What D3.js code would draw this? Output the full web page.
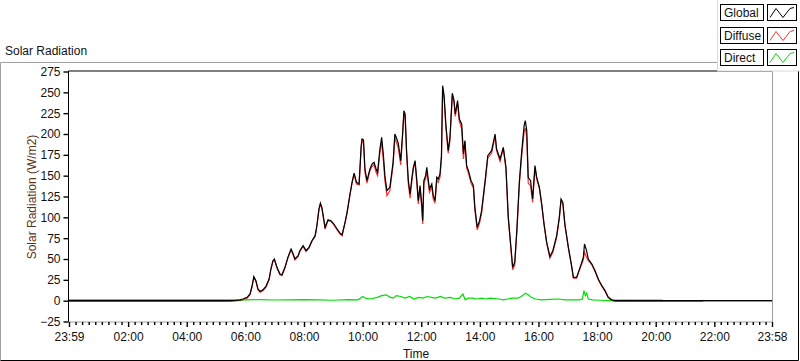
<!DOCTYPE html>
<html>
<head>
<meta charset="utf-8">
<script src="https://d3js.org/d3.v7.min.js"></script>
<style>
  body { margin: 0; background: #fff; }
  svg text { font-family: "Liberation Sans", Arial, sans-serif; }
</style>
</head>
<body>
<script>
// hours of the day (23:59 of the previous day = -1/60)
const hours = [-0.02, 5.48, 5.65, 5.82, 5.92, 6.06, 6.16, 6.23, 6.29, 6.36, 6.43, 6.50, 6.60, 6.70, 6.81, 6.87, 6.94, 6.99,
  7.08, 7.18, 7.25, 7.35, 7.45, 7.56, 7.63, 7.69, 7.80, 7.86, 7.97, 8.07, 8.17, 8.27, 8.38, 8.44, 8.51, 8.56, 8.61, 8.72,
  8.82, 8.92, 9.02, 9.13, 9.23, 9.30, 9.40, 9.47, 9.57, 9.64, 9.71, 9.79, 9.88, 9.95, 9.98, 10.03, 10.08, 10.15, 10.25,
  10.32, 10.39, 10.46, 10.51, 10.59, 10.65, 10.71, 10.76, 10.83, 10.93, 11.04, 11.10, 11.16, 11.22, 11.30, 11.37, 11.41,
  11.45, 11.50, 11.56, 11.62, 11.67, 11.73, 11.79, 11.85, 11.90, 11.96, 12.02, 12.05, 12.09, 12.15, 12.19, 12.23, 12.28,
  12.36, 12.41, 12.47, 12.53, 12.58, 12.64, 12.69, 12.73, 12.78, 12.84, 12.92, 12.98, 13.06, 13.12, 13.16, 13.24, 13.30,
  13.38, 13.44, 13.49, 13.55, 13.61, 13.70, 13.78, 13.83, 13.91, 13.99, 14.06, 14.18, 14.27, 14.40, 14.52, 14.57, 14.69,
  14.80, 14.89, 14.97, 15.05, 15.12, 15.19, 15.26, 15.35, 15.43, 15.51, 15.55, 15.60, 15.65, 15.73, 15.80, 15.88, 15.94,
  16.03, 16.11, 16.19, 16.28, 16.39, 16.49, 16.62, 16.71, 16.77, 16.83, 16.90, 17.02, 17.13, 17.19, 17.30, 17.42, 17.53,
  17.57, 17.64, 17.70, 17.82, 17.93, 18.04, 18.16, 18.27, 18.38, 18.50, 18.61, 21.60, 21.62, 23.97];

const globalRad = [0, 0, 0, 1, 2, 4, 8, 18, 29, 24, 14, 11, 13, 17, 26, 38, 48, 50,
  40, 32, 31, 40, 52, 62, 56, 50, 54, 60, 66, 60, 64, 72, 78, 90, 110, 117, 112, 88,
  97, 96, 92, 86, 81, 79, 94, 106, 128, 142, 153, 142, 140, 185, 194, 193, 158, 144, 158,
  164, 166, 158, 154, 182, 196, 174, 150, 132, 136, 166, 200, 195, 188, 168, 204, 228,
  224, 180, 144, 128, 144, 160, 168, 144, 120, 138, 114, 96, 144, 150, 160, 148, 134,
  140, 126, 120, 148, 146, 152, 174, 258, 246, 212, 180, 196, 249, 240, 224, 240, 218,
  212, 176, 192, 162, 156, 144, 138, 112, 88, 96, 108, 144, 174, 180, 200, 182, 170,
  184, 160, 100, 68, 40, 46, 84, 144, 180, 210, 216, 204, 148, 144, 122, 162, 148,
  136, 116, 92, 70, 53, 60, 78, 100, 122, 118, 92, 64, 42, 28, 28, 40, 52,
  68, 60, 50, 44, 36, 26, 18, 12, 4, 1, 0, 0, 0, 0];

const diffuseRad = [-1, -1, 0, 0, 1, 3, 7, 17, 28, 23, 13, 10, 12, 16, 25, 37, 47, 49,
  39, 31, 30, 39, 51, 61, 55, 49, 53, 59, 65, 59, 63, 71, 77, 89, 109, 116, 111, 86,
  96, 95, 91, 85, 80, 78, 93, 105, 127, 141, 152, 140, 139, 183, 192, 189, 154, 141, 156,
  161, 163, 154, 150, 178, 190, 168, 144, 126, 132, 163, 196, 189, 183, 163, 201, 225,
  221, 176, 140, 123, 140, 158, 165, 141, 116, 135, 111, 92, 141, 146, 155, 144, 130,
  137, 122, 117, 145, 142, 148, 170, 254, 243, 208, 177, 192, 246, 237, 221, 237, 215,
  206, 170, 190, 159, 153, 141, 135, 109, 85, 93, 105, 142, 171, 177, 197, 180, 167,
  183, 158, 98, 66, 37, 43, 81, 141, 175, 202, 207, 197, 141, 138, 118, 159, 146,
  135, 115, 91, 69, 51, 58, 76, 98, 120, 117, 91, 63, 41, 27, 27, 39, 49,
  58, 52, 48, 43, 35, 25, 17.5, 11.5, 4, 0, -1, -1, 0, 0];

// direct radiation has its own sample times
const directHours = [-0.02, 5.65, 6.0, 6.5, 7.0, 7.5, 8.0, 8.5, 9.0, 9.5, 9.85, 10.0, 10.1, 10.25, 10.5, 10.65, 10.8,
  10.95, 11.05, 11.15, 11.3, 11.45, 11.6, 11.75, 11.9, 12.05, 12.2, 12.35, 12.5, 12.65, 12.8, 13.0, 13.15, 13.3, 13.42,
  13.5, 13.6, 13.75, 13.9, 14.05, 14.2, 14.35, 14.5, 14.65, 14.8, 14.95, 15.1, 15.3, 15.45, 15.55, 15.65, 15.75, 15.9,
  16.1, 16.4, 16.7, 16.9, 17.2, 17.4, 17.5, 17.55, 17.6, 17.64, 17.7, 17.85, 18.1, 18.4, 18.6, 20.2, 20.25, 23.97];
const directRad = [1, 1, 1, 1.2, 0.8, 1, 1.2, 1, 0.5, 1.2, 1, 5, 3, 2, 4, 6, 7,
  4, 3, 6, 5, 3, 5, 2, 4, 3, 5, 4, 3, 5, 3, 4, 2, 3, 8,
  1, 3, 3, 2, 3, 2, 3, 2.5, 2, 1, 2, 3, 3, 6, 9, 7, 4, 2,
  1, 1.5, 2, 1, 1, 1, 2, 12, 6, 9, 2, 1, 0.5, 0, 0.8, 0.8, 0, 0];

const yTicks = [275, 250, 225, 200, 175, 150, 125, 100, 75, 50, 25, 0, -25];
const xTickHours = [-1 / 60, 2, 4, 6, 8, 10, 12, 14, 16, 18, 20, 22, 23 + 58 / 60];
const xTickLabels = ["23:59", "02:00", "04:00", "06:00", "08:00", "10:00", "12:00", "14:00", "16:00", "18:00", "20:00", "22:00", "23:58"];
const legendNames = ["Global", "Diffuse", "Direct"];
const legendColors = ["#000000", "#ff3030", "#00e000"];

const W = 800, H = 361;
const plot = { left: 69, right: 772, top: 71.5, bottom: 321.5 };

const svg = d3.select("body").append("svg").attr("width", W).attr("height", H);

const x = d3.scaleLinear().domain([-1 / 60, 23 + 58 / 60]).range([plot.left, plot.right]);
const y = d3.scaleLinear().domain([-25, 275]).range([plot.bottom, plot.top]);

// outer frame
svg.append("path").attr("d", `M0.5,360.5 V62.5 H798`).attr("fill", "none").attr("stroke", "#a0a0a0");
svg.append("path").attr("d", `M0.5,360.5 H798.5 V62`).attr("fill", "none").attr("stroke", "#000");

svg.append("text").attr("x", 5).attr("y", 55).attr("font-size", 12).attr("fill", "#111").text("Solar Radiation");

// plot area border
svg.append("path").attr("d", `M${plot.left - 0.5},${plot.bottom + 0.5} V${plot.top - 0.5} H${plot.right + 0.5}`)
   .attr("fill", "none").attr("stroke", "#000");
svg.append("path").attr("d", `M${plot.left - 0.5},${plot.bottom + 0.5} H${plot.right + 0.5} V${plot.top - 0.5}`)
   .attr("fill", "none").attr("stroke", "#a0a0a0");

// y axis
const yAxis = d3.axisLeft(y).tickValues(yTicks).tickSize(5).tickPadding(3);
const yg = svg.append("g").attr("transform", `translate(${plot.left - 0.5},0)`).call(yAxis);
yg.select(".domain").remove();
yg.selectAll("text").attr("font-size", 12).attr("fill", "#111").style("font-family", "Liberation Sans, Arial");

// x axis: majors with labels, minors in between
const xMinor = [];
for (let i = 0; i < xTickHours.length - 1; i++) {
  const a = xTickHours[i], b = xTickHours[i + 1];
  for (let k = 1; k < 9; k++) xMinor.push(a + (b - a) * k / 9);
}
const xgMinor = svg.append("g").attr("transform", `translate(0,${plot.bottom + 0.5})`)
   .call(d3.axisBottom(x).tickValues(xMinor).tickSize(3).tickFormat(""));
xgMinor.select(".domain").remove();
const xAxis = d3.axisBottom(x).tickValues(xTickHours).tickSize(5).tickPadding(5)
   .tickFormat((d, i) => xTickLabels[i]);
const xg = svg.append("g").attr("transform", `translate(0,${plot.bottom + 0.5})`).call(xAxis);
xg.select(".domain").remove();
xg.selectAll("text").attr("font-size", 12).attr("fill", "#111").style("font-family", "Liberation Sans, Arial");
svg.selectAll(".tick line").attr("stroke", "#000").attr("stroke-width", 1.4);

svg.append("text").attr("x", 416).attr("y", 358).attr("text-anchor", "middle")
   .attr("font-size", 12).attr("fill", "#111").text("Time");
svg.append("text").attr("transform", `translate(36,197) rotate(-90)`).attr("text-anchor", "middle")
   .attr("font-size", 12).attr("fill", "#5a3418").text("Solar Radiation (W/m2)");

// lines
const line = d3.line().x(d => x(d[0])).y(d => y(d[1]));
const plotG = svg.append("g");
plotG.append("path").attr("d", line(hours.map((h, i) => [h, diffuseRad[i]])))
   .attr("fill", "none").attr("stroke", legendColors[1]).attr("stroke-width", 1.2);
plotG.append("path").attr("d", line(directHours.map((h, i) => [h, directRad[i]])))
   .attr("fill", "none").attr("stroke", legendColors[2]).attr("stroke-width", 1.2);
plotG.append("path").attr("d", line(hours.map((h, i) => [h, globalRad[i]])))
   .attr("fill", "none").attr("stroke", legendColors[0]).attr("stroke-width", 1.2);

// legend
const lg = svg.append("g");
lg.append("rect").attr("x", 717.5).attr("y", -1).attr("width", 84).attr("height", 72)
  .attr("fill", "#fff").attr("stroke", "#d8d8d8");
const rowY = d3.scalePoint().domain(legendNames).range([4, 49]);
legendNames.forEach((name, i) => {
  const top = Math.round(rowY(name)) + 0.5, hgt = 16;
  lg.append("rect").attr("x", 720.5).attr("y", top).attr("width", 43).attr("height", hgt)
    .attr("fill", "#fff").attr("stroke", "#000");
  lg.append("text").attr("x", 724).attr("y", top + 12.5).attr("font-size", 12).attr("fill", "#111").text(name);
  lg.append("rect").attr("x", 767.5).attr("y", top).attr("width", 29).attr("height", hgt)
    .attr("fill", "#fff").attr("stroke", "#000");
  lg.append("path")
    .attr("d", `M770,${top + 13} L776,${top + 4} L783,${top + 13} L790,${top + 4} L794,${top + 3}`)
    .attr("fill", "none").attr("stroke", legendColors[i]).attr("stroke-width", 1);
});
</script>
</body>
</html>
